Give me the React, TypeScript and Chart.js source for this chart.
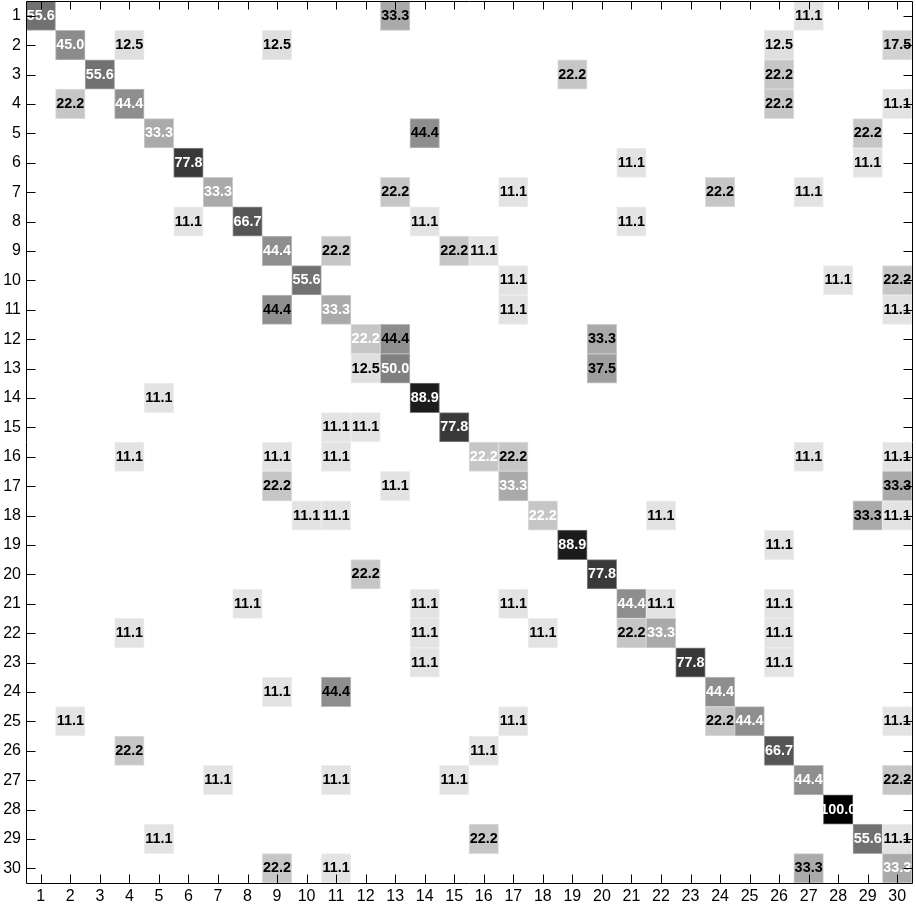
import React, { useEffect, useRef } from 'react';
import { Chart, registerables } from 'chart.js';

Chart.register(...registerables);

const colLabels = ['1','2','3','4','5','6','7','8','9','10','11','12','13','14','15','16','17','18','19','20','21','22','23','24','25','26','27','28','29','30'];
const rowLabels = ['1','2','3','4','5','6','7','8','9','10','11','12','13','14','15','16','17','18','19','20','21','22','23','24','25','26','27','28','29','30'];

// Non-empty cells of the confusion matrix (row = true class, col = predicted class, value in %)
const cellRows = [
  1,1,1,
  2,2,2,2,2,
  3,3,3,
  4,4,4,4,
  5,5,5,
  6,6,6,
  7,7,7,7,7,
  8,8,8,8,
  9,9,9,9,
  10,10,10,10,
  11,11,11,11,
  12,12,12,
  13,13,13,
  14,14,
  15,15,15,
  16,16,16,16,16,16,16,
  17,17,17,17,
  18,18,18,18,18,18,
  19,19,
  20,20,
  21,21,21,21,21,21,
  22,22,22,22,22,22,
  23,23,23,
  24,24,24,
  25,25,25,25,25,
  26,26,26,
  27,27,27,27,27,
  28,
  29,29,29,29,
  30,30,30,30,
];
const cellCols = [
  1,13,27,
  2,4,9,26,30,
  3,19,26,
  2,4,26,30,
  5,14,29,
  6,21,29,
  7,13,17,24,27,
  6,8,14,21,
  9,11,15,16,
  10,17,28,30,
  9,11,17,30,
  12,13,20,
  12,13,20,
  5,14,
  11,12,15,
  4,9,11,16,17,27,30,
  9,13,17,30,
  10,11,18,22,29,30,
  19,26,
  12,20,
  8,14,17,21,22,26,
  4,14,18,21,22,26,
  14,23,26,
  9,11,24,
  2,17,24,25,30,
  4,16,26,
  7,11,15,27,30,
  28,
  5,16,29,30,
  9,11,27,30,
];
const cellValues = [
  55.6,33.3,11.1,
  45.0,12.5,12.5,12.5,17.5,
  55.6,22.2,22.2,
  22.2,44.4,22.2,11.1,
  33.3,44.4,22.2,
  77.8,11.1,11.1,
  33.3,22.2,11.1,22.2,11.1,
  11.1,66.7,11.1,11.1,
  44.4,22.2,22.2,11.1,
  55.6,11.1,11.1,22.2,
  44.4,33.3,11.1,11.1,
  22.2,44.4,33.3,
  12.5,50.0,37.5,
  11.1,88.9,
  11.1,11.1,77.8,
  11.1,11.1,11.1,22.2,22.2,11.1,11.1,
  22.2,11.1,33.3,33.3,
  11.1,11.1,22.2,11.1,33.3,11.1,
  88.9,11.1,
  22.2,77.8,
  11.1,11.1,11.1,44.4,11.1,11.1,
  11.1,11.1,11.1,22.2,33.3,11.1,
  11.1,77.8,11.1,
  11.1,44.4,44.4,
  11.1,11.1,22.2,44.4,11.1,
  22.2,11.1,66.7,
  11.1,11.1,11.1,44.4,22.2,
  100.0,
  11.1,22.2,55.6,11.1,
  22.2,11.1,33.3,33.3,
];

const FONT = "'Liberation Sans', Arial, Helvetica, sans-serif";

function grayFor(v: number, mixWhite = 0): string {
  const g = 255 * (1 - v / 100);
  const m = g + (255 - g) * mixWhite;
  const c = Math.round(m);
  return `rgb(${c},${c},${c})`;
}

const cellTextPlugin = {
  id: 'cellText',
  afterDatasetsDraw(chart: any) {
    const ctx = chart.ctx;
    const meta = chart.getDatasetMeta(0);
    const data = chart.data.datasets[0].data as any[];
    ctx.save();
    ctx.font = `bold 15px ${FONT}`;
    ctx.textAlign = 'center';
    ctx.textBaseline = 'middle';
    meta.data.forEach((el: any, i: number) => {
      const raw = data[i];
      const p = el.getProps(['x', 'y', 'base'], true);
      const cy = (p.y + p.base) / 2;
      ctx.save();
      ctx.translate(p.x, cy);
      ctx.scale(0.96, 1);
      ctx.fillStyle = raw.diag ? '#ffffff' : '#000000';
      ctx.fillText(raw.v.toFixed(1), 0, 0);
      ctx.restore();
    });
    ctx.restore();
  },
};

const framePlugin = {
  id: 'frameTicks',
  afterDraw(chart: any) {
    const { ctx, chartArea } = chart;
    const { left, right, top, bottom } = chartArea;
    const xs = chart.scales.x;
    const ys = chart.scales.y;
    const a = (v: number) => Math.round(v) + 0.5;
    ctx.save();
    ctx.strokeStyle = '#000';
    ctx.lineWidth = 1;
    ctx.beginPath();
    ctx.rect(a(left), a(top), Math.round(right) - Math.round(left), Math.round(bottom) - Math.round(top));
    ctx.stroke();
    ctx.beginPath();
    xs.ticks.forEach((_t: any, i: number) => {
      const px = a(xs.getPixelForTick(i));
      ctx.moveTo(px, a(bottom));
      ctx.lineTo(px, a(bottom) - 9);
      ctx.moveTo(px, a(top));
      ctx.lineTo(px, a(top) + 8);
    });
    ys.ticks.forEach((t: any) => {
      const py = a(ys.getPixelForValue(t.value));
      ctx.moveTo(a(left), py);
      ctx.lineTo(a(left) + 9, py);
      ctx.moveTo(a(right), py);
      ctx.lineTo(a(right) - 9, py);
    });
    ctx.stroke();
    ctx.restore();
  },
};

export default function App() {
  const canvasRef = useRef<HTMLCanvasElement | null>(null);

  useEffect(() => {
    if (!canvasRef.current) return;
    const points = cellValues.map((v, i) => ({
      x: colLabels[cellCols[i] - 1],
      y: [cellRows[i] - 0.5, cellRows[i] + 0.5],
      v,
      diag: cellRows[i] === cellCols[i],
    }));
    const chart = new Chart(canvasRef.current, {
      type: 'bar',
      data: {
        labels: colLabels,
        datasets: [
          {
            data: points as any,
            backgroundColor: (c: any) => grayFor(c.raw ? c.raw.v : 0),
            borderColor: (c: any) => grayFor(c.raw ? c.raw.v : 0, 0.4),
            borderWidth: 1,
            borderSkipped: false,
            barPercentage: 1,
            categoryPercentage: 1,
            grouped: false,
          } as any,
        ],
      },
      options: {
        responsive: false,
        animation: false,
        events: [],
        layout: { padding: { top: 1, right: 4, left: 0, bottom: 0 } },
        plugins: {
          legend: { display: false },
          tooltip: { enabled: false },
        },
        scales: {
          x: {
            type: 'category',
            offset: true,
            grid: { display: false, drawTicks: false },
            border: { display: false },
            ticks: {
              font: { family: FONT, size: 16 },
              color: '#000',
              padding: 4,
              maxRotation: 0,
              autoSkip: false,
            },
            afterFit: (s: any) => {
              s.height = 22;
              s.paddingLeft = 0;
              s.paddingRight = 0;
            },
          },
          y: {
            type: 'linear',
            reverse: true,
            min: 0.5,
            max: 30.5,
            grid: { display: false, drawTicks: false },
            border: { display: false },
            afterBuildTicks: (s: any) => {
              s.ticks = rowLabels.map((_l, i) => ({ value: i + 1 }));
            },
            ticks: {
              font: { family: FONT, size: 16 },
              color: '#000',
              padding: 5,
              autoSkip: false,
              callback: (v: any) => rowLabels[Number(v) - 1] ?? '',
            },
            afterFit: (s: any) => {
              s.width = 26;
              s.paddingTop = 0;
              s.paddingBottom = 0;
            },
          },
        },
      } as any,
      plugins: [cellTextPlugin, framePlugin],
    });
    return () => chart.destroy();
  }, []);

  return (
    <div style={{ position: 'absolute', left: 0, top: 0, width: 916, height: 905 }}>
      <canvas ref={canvasRef} width={916} height={905} style={{ width: 916, height: 905 }} />
    </div>
  );
}
